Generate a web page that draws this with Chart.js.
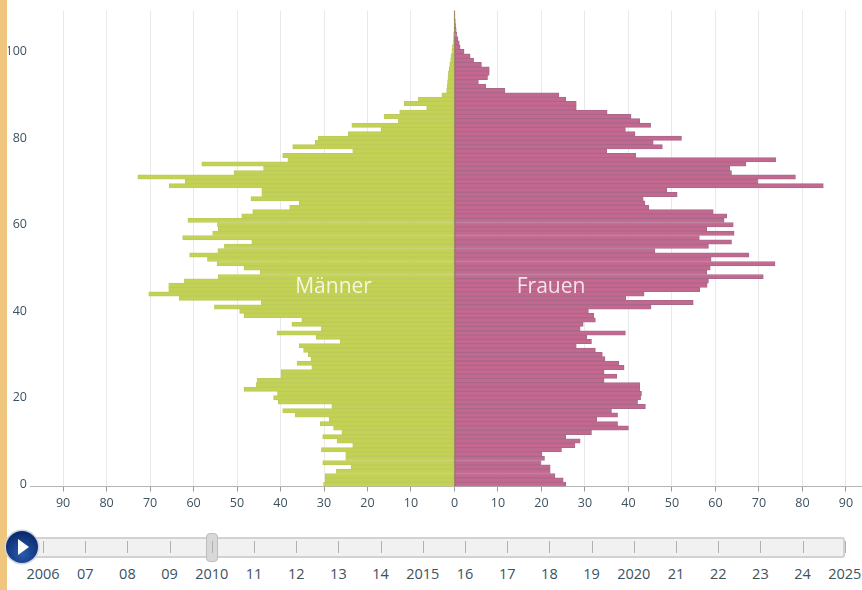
<!DOCTYPE html>
<html lang="de">
<head>
    <meta charset="UTF-8">
    <title>Bevölkerungspyramide</title>
    <script src="https://cdn.jsdelivr.net/npm/chart.js"></script>
    <style>
        html, body { margin: 0; padding: 0; background: #fff; }
        body { width: 862px; height: 590px; position: relative; overflow: hidden; font-family: 'Open Sans', sans-serif; }
        #streifen { position: absolute; left: 0; top: 0; width: 7px; height: 590px; background: #f0c67e; }
        #pyramide { position: absolute; left: 0; top: 0; }
        /* Zeitleiste unter dem Diagramm */
        #leiste { position: absolute; left: 30px; top: 537px; width: 811px; height: 17px; background: #f1f1f1; border: 2px solid #d2d2d2; border-radius: 3px; }
        .strich { position: absolute; top: 541px; width: 1px; height: 12px; background: #b0b0b0; }
        .jahr { position: absolute; top: 564px; width: 50px; margin-left: -25px; text-align: center; font-size: 14.5px; color: #3c5260; }
        #griff { position: absolute; left: 206px; top: 533px; width: 10px; height: 27px; background: #d8d8d8; border: 1px solid #bdbdbd; border-radius: 4px; }
        #start { position: absolute; left: 6px; top: 531px; width: 32px; height: 32px; border-radius: 50%; background: radial-gradient(circle at 50% 70%, #2a5cb0, #0a2a6e 75%); box-shadow: 0 0 0 1.5px #cdd3df; }
        #start::after { content: ''; position: absolute; left: 12px; top: 8px; border-left: 11px solid #fff; border-top: 8px solid transparent; border-bottom: 8px solid transparent; }
    </style>
</head>
<body>
    <div id="streifen"></div>
    <canvas id="pyramide" width="862" height="520"></canvas>
    <div id="leiste"></div>
    <div id="griff"></div>
    <div id="start"></div>

    <script>
        // Alter 0 bis 109
        const alter = [
            0,1,2,3,4,5,6,7,8,9,10,11,12,13,14,15,16,17,18,19,
            20,21,22,23,24,25,26,27,28,29,30,31,32,33,34,35,36,37,38,39,
            40,41,42,43,44,45,46,47,48,49,50,51,52,53,54,55,56,57,58,59,
            60,61,62,63,64,65,66,67,68,69,70,71,72,73,74,75,76,77,78,79,
            80,81,82,83,84,85,86,87,88,89,90,91,92,93,94,95,96,97,98,99,
            100,101,102,103,104,105,106,107,108,109
        ];
        const maenner = [
            30.1,29.7,29.7,27.2,23.8,30.3,25,25,30.6,23.4,27,30.3,25.9,27.8,30.9,28.8,36.6,39.5,28.2,40.5,
            41.6,40.7,48.4,45.6,45.4,39.9,39.9,32.8,36.2,33,33.6,34.7,35.7,26.3,31.8,40.8,30.6,37.4,35.1,48.4,
            49.4,55.2,44.4,63.3,70.3,65.7,65.7,62.1,54.3,44.7,48.4,54.6,56.8,60.9,54.4,52.9,46.6,62.5,55.6,54.3,
            54.5,61.3,48.9,46.4,37.9,35.7,46.8,44.3,44.3,65.6,61.9,72.8,50.7,43.9,58.1,38.3,39.5,23.4,37.2,32,
            31.3,24.4,16.9,23.6,12.9,16.2,12.6,6.4,11.6,8.3,2.9,1.8,1.7,1.6,1.5,1.4,1.2,1.1,0.9,0.8,
            0.6,0.5,0.35,0.25,0.2,0.1,0.1,0.1,0.1,0.1
        ];
        const frauen = [
            25.6,25,23.1,22,22,19.8,20.7,20.1,24.6,27.7,28.9,25.6,31.5,40,37.5,32.7,37.5,36.1,43.9,42.1,
            42.8,43,42.6,42.6,34.4,37.3,34.4,39,37.8,34.6,34,32.4,28,31.5,30.4,39.3,28.9,29.6,32.4,32,
            30.8,45.2,54.9,39.4,43.6,56.4,58.1,58.4,71,58,58.8,73.7,59,67.7,46.1,58.4,63.7,56.3,64.3,58,
            64.1,62,62.6,59.5,44.7,43.8,43.4,51.2,48.8,84.8,69.7,78.4,63.7,63.3,67,73.9,41.7,35,47.8,45.7,
            52.2,41.5,39.3,45.1,42.6,40.6,35.1,28,28,25.6,24,11.6,7.2,5.5,7.6,8,8,6.2,4.4,3.6,
            2.2,1.3,1.1,0.8,0.5,0.4,0.3,0.2,0.1,0.1
        ];
        const xTicks = [-90,-80,-70,-60,-50,-40,-30,-20,-10,0,10,20,30,40,50,60,70,80,90];
        const jahre = ['2006','07','08','09','2010','11','12','13','14','2015','16','17','18','19','2020','21','22','23','24','2025'];

        // Schriftzüge Männer / Frauen auf den Balken
        const beschriftung = {
            id: 'beschriftung',
            afterDatasetsDraw(chart) {
                const { ctx, scales } = chart;
                ctx.save();
                ctx.font = '21px "Open Sans", sans-serif';
                ctx.fillStyle = 'rgba(255,255,255,0.82)';
                ctx.textAlign = 'center';
                ctx.textBaseline = 'middle';
                const y = scales.y.getPixelForValue(46) + 2;
                ctx.fillText('Männer', scales.x.getPixelForValue(-27.8), y);
                ctx.fillText('Frauen', scales.x.getPixelForValue(22.2), y);
                ctx.restore();
            }
        };

        new Chart(document.getElementById('pyramide'), {
            type: 'bar',
            data: {
                labels: alter,
                datasets: [
                    {
                        label: 'Männer',
                        data: maenner.map(v => -v),
                        backgroundColor: '#c3d254',
                        borderColor: '#bccb5a',
                        borderWidth: 1,
                        borderSkipped: false,
                        barPercentage: 1,
                        categoryPercentage: 1
                    },
                    {
                        label: 'Frauen',
                        data: frauen,
                        backgroundColor: '#c4688f',
                        borderColor: '#a8688a',
                        borderWidth: 1,
                        borderSkipped: false,
                        barPercentage: 1,
                        categoryPercentage: 1
                    }
                ]
            },
            options: {
                indexAxis: 'y',
                responsive: false,
                animation: false,
                layout: { padding: { left: 8, top: 8, right: 0, bottom: 0 } },
                plugins: { legend: { display: false }, tooltip: { enabled: false } },
                scales: {
                    x: {
                        stacked: true,
                        min: -97.6,
                        max: 93.7,
                        afterBuildTicks: axis => { axis.ticks = xTicks.map(v => ({ value: v })); },
                        afterFit: axis => { axis.height = 33.5; },
                        border: { color: '#b5b5b5' },
                        grid: {
                            color: c => c.tick && c.tick.value === 0 ? '#9c8468' : '#e8e9eb',
                            tickColor: '#9a9a9a',
                            tickLength: 5
                        },
                        ticks: {
                            autoSkip: false,
                            maxRotation: 0,
                            padding: 4,
                            color: '#3c5260',
                            font: { family: 'Open Sans', size: 12.5 },
                            callback: v => Math.abs(v)
                        }
                    },
                    y: {
                        stacked: true,
                        reverse: true,
                        afterFit: axis => { axis.width = 22; },
                        border: { display: false },
                        grid: { display: false, drawTicks: false },
                        ticks: {
                            autoSkip: false,
                            padding: 3,
                            color: '#3c5260',
                            font: { family: 'Open Sans', size: 12.5 },
                            callback(v) {
                                const a = this.getLabelForValue(v);
                                return a % 20 === 0 ? String(a) : '';
                            }
                        }
                    }
                }
            },
            plugins: [beschriftung]
        });

        // Zeitleiste: Striche und Jahreszahlen
        jahre.forEach((j, i) => {
            const x = 43 + i * 42.2;
            const s = document.createElement('div');
            s.className = 'strich';
            s.style.left = x + 'px';
            document.body.appendChild(s);
            const t = document.createElement('div');
            t.className = 'jahr';
            t.style.left = x + 'px';
            t.textContent = j;
            document.body.appendChild(t);
        });
    </script>
</body>
</html>
